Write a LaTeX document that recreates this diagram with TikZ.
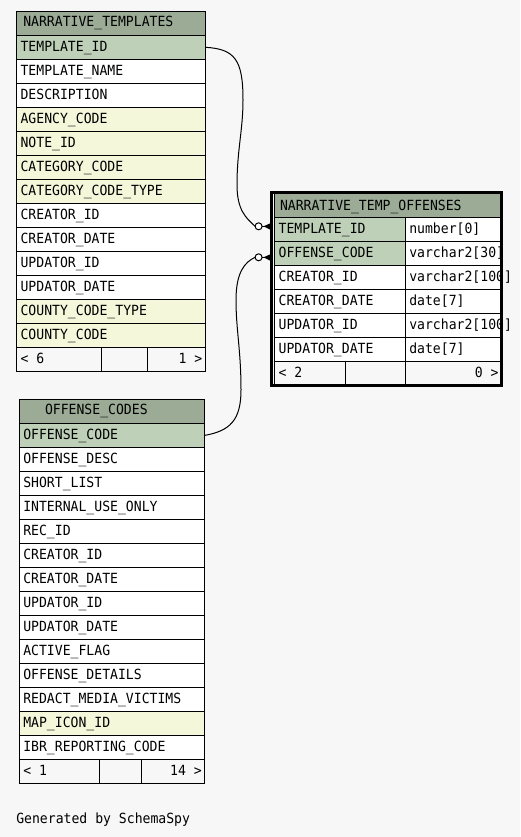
\documentclass[tikz,border=0pt]{standalone}
\usepackage{fontspec}
\newfontfamily\monofont[FakeStretch=0.937]{DejaVu Sans Mono}
\usetikzlibrary{calc}
\definecolor{bgc}{HTML}{F7F7F7}
\definecolor{hdrc}{HTML}{9BAB96}
\definecolor{pkc}{HTML}{BED1B8}
\definecolor{idxc}{HTML}{F4F7DA}
\begin{document}
\begin{tikzpicture}[x=1pt,y=-1pt,
  cellbox/.style={draw=black,line width=1pt,inner sep=0pt,outer sep=0pt,minimum height=24pt,anchor=north west},
  lbl/.style={inner sep=0pt,outer sep=0pt,anchor=base west,font=\monofont\fontsize{14}{15}\selectfont},
  rlbl/.style={lbl,anchor=base east},
  link/.style={draw=black,line width=1pt},
  ring/.style={circle,draw=black,fill=white,line width=1pt,minimum size=7pt,inner sep=0pt,outer sep=0pt},
  frame/.style={draw=black,line width=3pt,inner sep=0pt,outer sep=0pt,anchor=north west}
]
\fill[bgc] (0,0) rectangle (520,837);
\useasboundingbox (0,0) rectangle (520,837);

% ---------- NARRATIVE_TEMPLATES ----------
\node[cellbox,fill=hdrc,minimum width=189pt,minimum height=23.6pt] (nth) at (16.5,11.7) {};
\node[lbl] (nth-t) at (23.3,26.9) {NARRATIVE\_TEMPLATES};
\foreach \t/\c [count=\i from 0] in {TEMPLATE\_ID/pkc,TEMPLATE\_NAME/white,DESCRIPTION/white,AGENCY\_CODE/idxc,NOTE\_ID/idxc,CATEGORY\_CODE/idxc,CATEGORY\_CODE\_TYPE/idxc,CREATOR\_ID/white,CREATOR\_DATE/white,UPDATOR\_ID/white,UPDATOR\_DATE/white,COUNTY\_CODE\_TYPE/idxc,COUNTY\_CODE/idxc}{
  \node[cellbox,fill=\c,minimum width=189pt] (nt-\i) at (16.5,35.3+24*\i) {};
  \node[lbl] (nt-\i-t) at (20.6,35.3+24*\i+16.3) {\t};
}
\node[cellbox,fill=bgc,minimum width=85.2pt] (ntf-a) at (16.5,347.3) {};
\node[cellbox,fill=bgc,minimum width=46pt] (ntf-b) at (101.7,347.3) {};
\node[cellbox,fill=bgc,minimum width=57.8pt] (ntf-c) at (147.7,347.3) {};
\node[lbl] (ntf-l) at (20.6,363.6) {< 6};
\node[rlbl] (ntf-r) at (202.3,363.6) {1 >};

% ---------- OFFENSE_CODES ----------
\node[cellbox,fill=hdrc,minimum width=185pt] (och) at (19.5,399.4) {};
\node[lbl] (och-t) at (45,414.9) {OFFENSE\_CODES};
\foreach \t/\c [count=\i from 0] in {OFFENSE\_CODE/pkc,OFFENSE\_DESC/white,SHORT\_LIST/white,INTERNAL\_USE\_ONLY/white,REC\_ID/white,CREATOR\_ID/white,CREATOR\_DATE/white,UPDATOR\_ID/white,UPDATOR\_DATE/white,ACTIVE\_FLAG/white,OFFENSE\_DETAILS/white,REDACT\_MEDIA\_VICTIMS/white,MAP\_ICON\_ID/idxc,IBR\_REPORTING\_CODE/white}{
  \node[cellbox,fill=\c,minimum width=185pt] (oc-\i) at (19.5,423.4+24*\i) {};
  \node[lbl] (oc-\i-t) at (23.3,423.4+24*\i+16.3) {\t};
}
\node[cellbox,fill=bgc,minimum width=79.8pt] (ocf-a) at (19.5,759.4) {};
\node[cellbox,fill=bgc,minimum width=42.4pt] (ocf-b) at (99.3,759.4) {};
\node[cellbox,fill=bgc,minimum width=62.8pt] (ocf-c) at (141.7,759.4) {};
\node[lbl] (ocf-l) at (23.3,775.7) {< 1};
\node[rlbl] (ocf-r) at (201.7,775.7) {14 >};

% ---------- NARRATIVE_TEMP_OFFENSES ----------
\node[cellbox,fill=hdrc,minimum width=227pt,minimum height=23.6pt] (ntoh) at (274,193.7) {};
\node[lbl] (ntoh-t) at (280,210.2) {NARRATIVE\_TEMP\_OFFENSES};
\foreach \t/\d/\c/\e [count=\i from 0] in {TEMPLATE\_ID/{number[0]}/pkc/white,OFFENSE\_CODE/{varchar2[30]}/pkc/white,CREATOR\_ID/{varchar2[100]}/white/white,CREATOR\_DATE/{date[7]}/white/white,UPDATOR\_ID/{varchar2[100]}/white/white,UPDATOR\_DATE/{date[7]}/white/white}{
  \node[cellbox,fill=\c,minimum width=131.5pt] (nto-\i) at (274,217.3+24*\i) {};
  \node[cellbox,fill=\e,minimum width=95.5pt] (ntod-\i) at (405.5,217.3+24*\i) {};
  \node[lbl] (nto-\i-t) at (278.7,217.3+24*\i+16.6) {\t};
  \node[lbl] (ntod-\i-t) at (409.3,217.3+24*\i+16.6) {\d};
}
\node[cellbox,fill=bgc,minimum width=71.7pt] (ntof-a) at (274,361.3) {};
\node[cellbox,fill=bgc,minimum width=59.8pt] (ntof-b) at (345.7,361.3) {};
\node[cellbox,fill=bgc,minimum width=95.5pt] (ntof-c) at (405.5,361.3) {};
\node[lbl] (ntof-l) at (278.7,377.8) {< 2};
\node[rlbl] (ntof-r) at (498.5,377.8) {0 >};
\node[frame,minimum width=230pt,minimum height=193.6pt] (nto) at (271.8,192.2) {};

% ---------- connectors ----------
\node[ring] (o1) at (258.6,226.3) {};
\node[ring] (o2) at (258.6,257.3) {};
\coordinate (k1) at (271,226.3);
\coordinate (k2) at (271,257.3);

\draw[link] (nt-0.east) .. controls (235,49) and (243,60) .. (243,100)
  .. controls (243,130) and (237,150) .. (237,185)
  .. controls (237,210) and (246,218) .. (o1.west);
\draw[link] (oc-0.east) .. controls (230,431) and (241,420) .. (241,390)
  .. controls (241,350) and (236,330) .. (236,300)
  .. controls (236,272) and (245,262) .. (o2.west);

\draw[link] (o1.east) -- (k1);
\fill[black] (263.5,226.3) -- (271,223) -- (271,230) -- cycle;
\draw[link] (o2.east) -- (k2);
\fill[black] (263.5,257.3) -- (271,254) -- (271,261) -- cycle;

% ---------- footer ----------
\node[lbl] (gen) at (16.3,823.3) {Generated by SchemaSpy};
\end{tikzpicture}
\end{document}
